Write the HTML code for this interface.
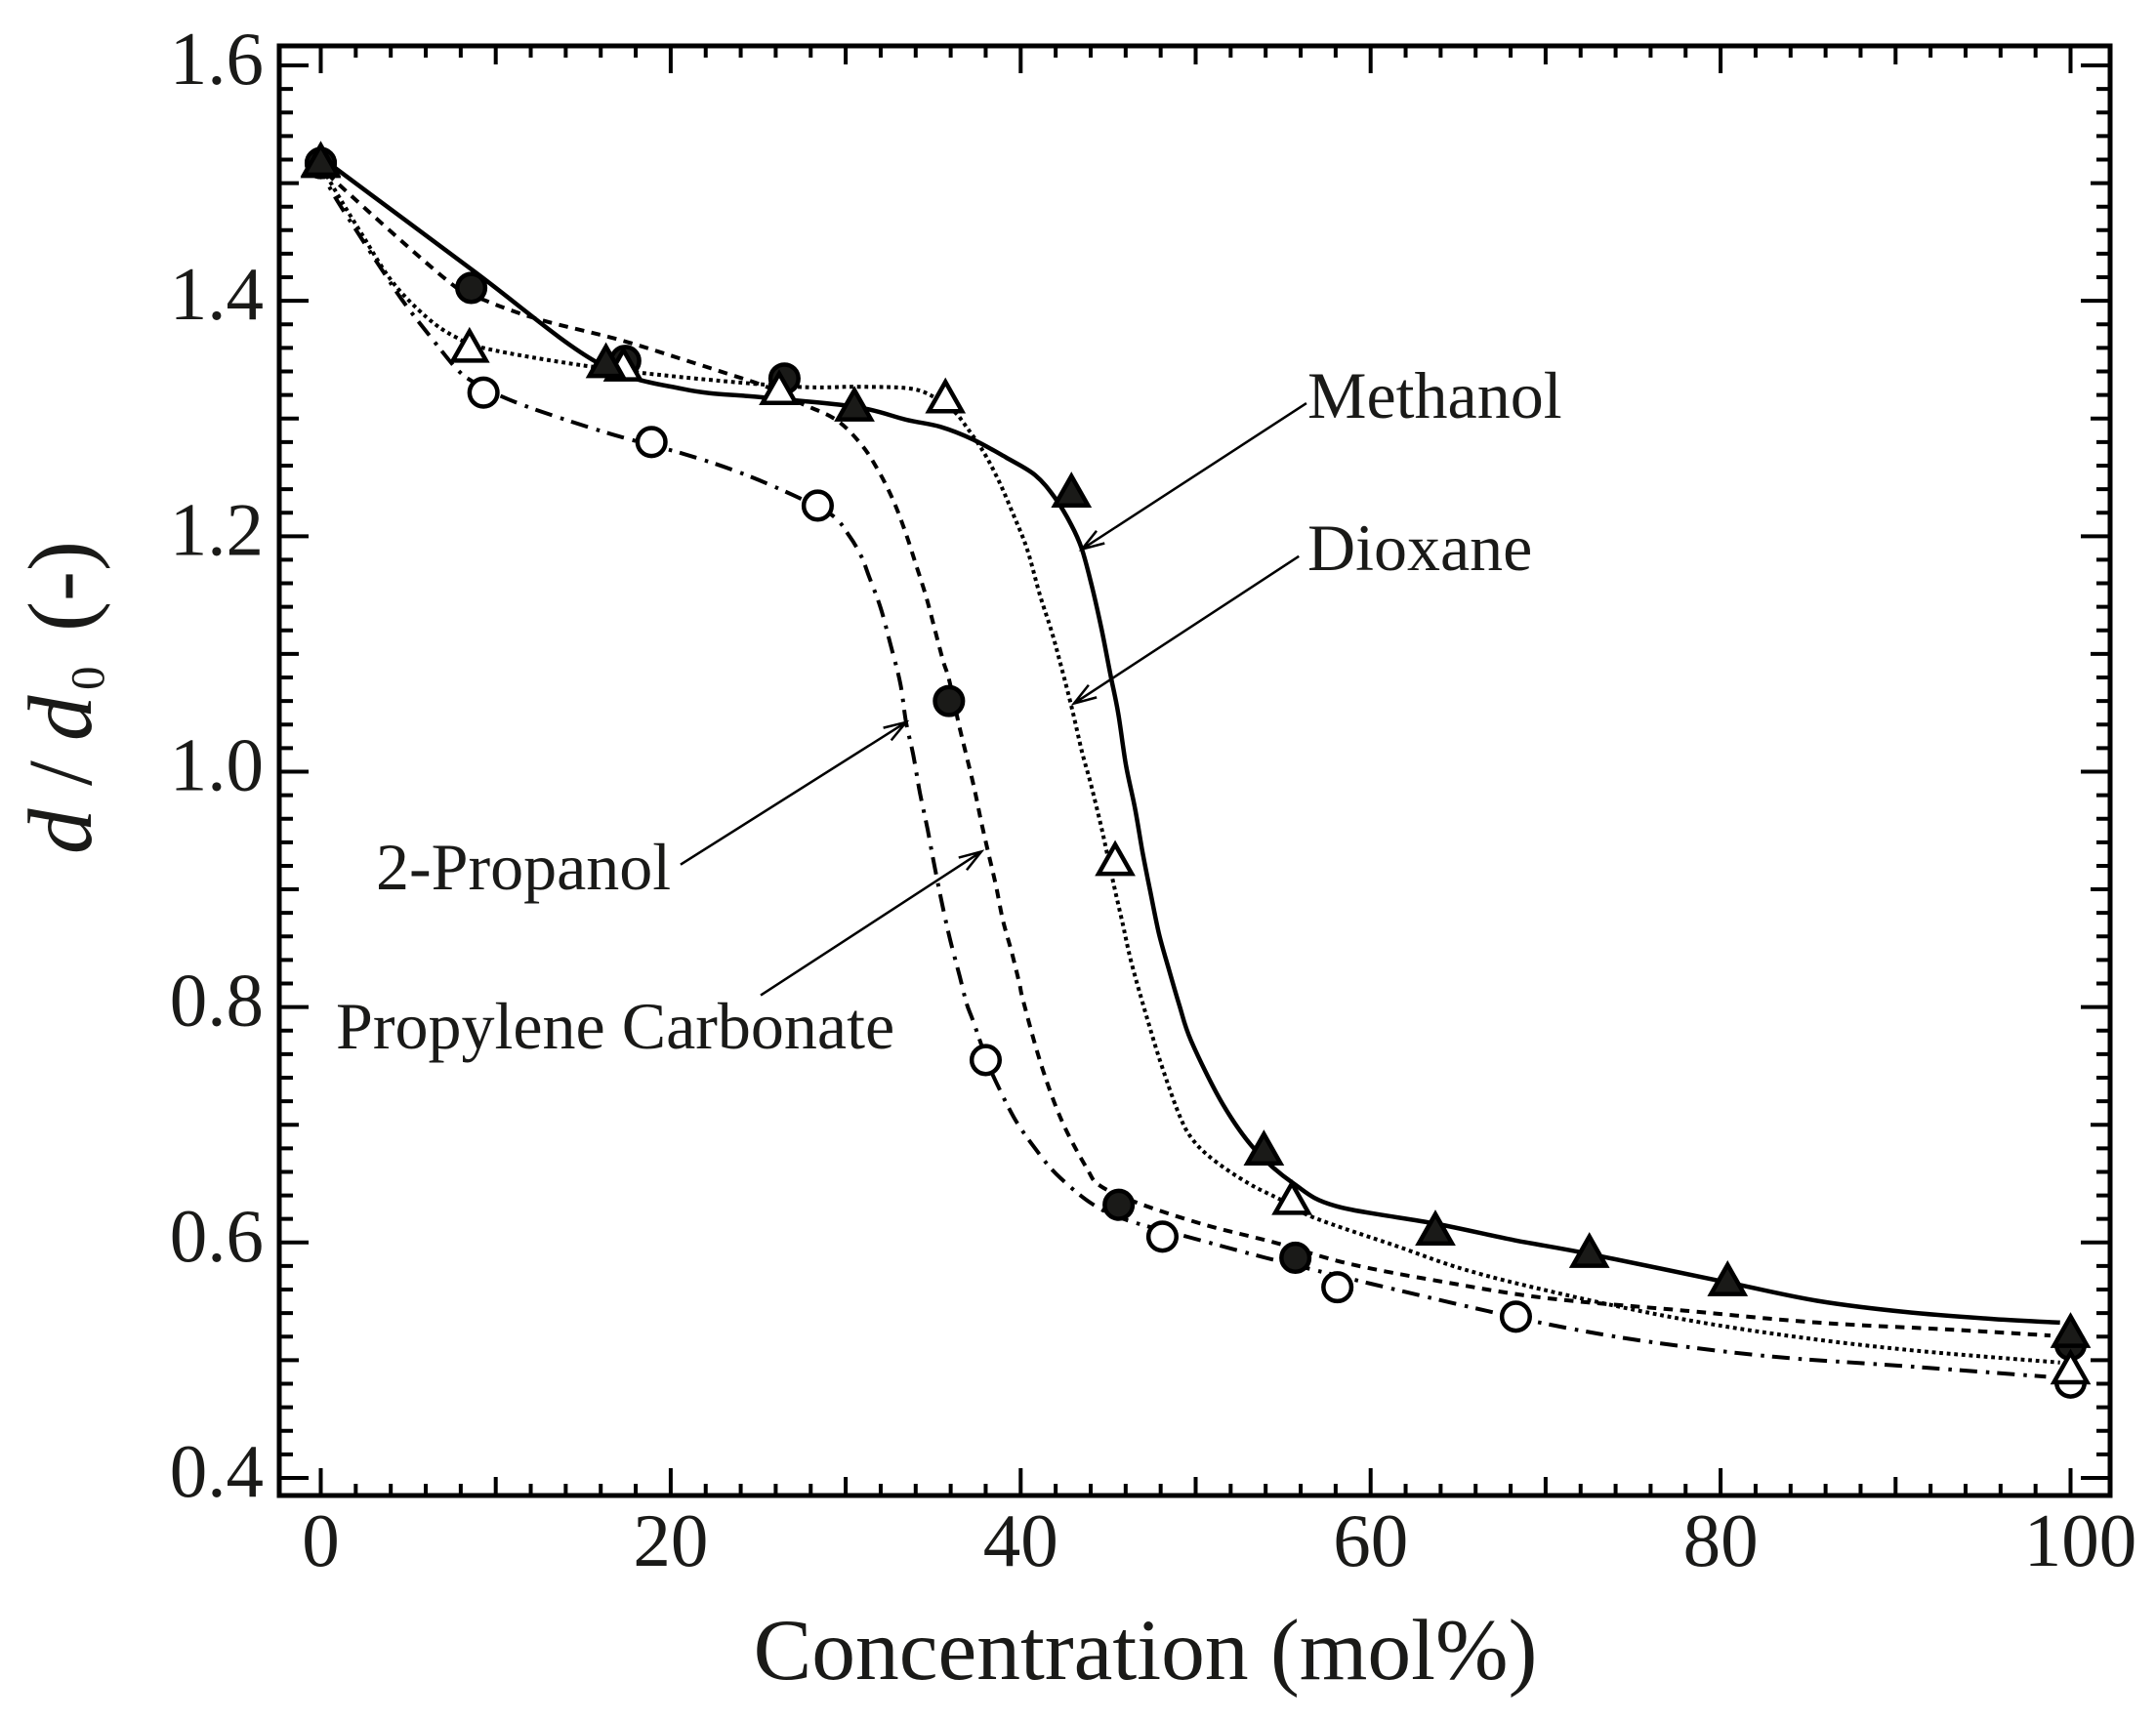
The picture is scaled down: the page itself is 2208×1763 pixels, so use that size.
<!DOCTYPE html>
<html lang="en">
<head>
<meta charset="utf-8">
<title>d/d0 versus concentration</title>
<style>
  html, body { margin: 0; padding: 0; background: #fff; width: 2208px; height: 1763px; overflow: hidden; }
  svg { display: block; }
  text { font-family: "Liberation Serif", "Times New Roman", serif; fill: #1a1a18; }
</style>
</head>
<body>
<svg id="chart" xmlns="http://www.w3.org/2000/svg" width="2208" height="1763" viewBox="0 0 2208 1763">
  <rect x="0" y="0" width="2208" height="1763" fill="#ffffff"/>
  <g id="series-lines"></g>
  <g id="annotations"></g>
  <g id="markers"></g>
  <g id="axes"></g>
  <text x="1173" y="1720" font-size="89.5" text-anchor="middle">Concentration (mol%)</text>
  <text transform="translate(93,875) rotate(-90)" font-size="93"><tspan x="0" y="0" font-style="italic">d</tspan><tspan x="70" y="0">/</tspan><tspan x="116" y="0" font-style="italic">d</tspan><tspan x="168" y="13" font-size="49">0</tspan><tspan x="228" y="0">(-)</tspan></text>
  <text x="1339" y="428" font-size="68">Methanol</text>
  <text x="1339" y="584" font-size="68">Dioxane</text>
  <text x="385" y="911" font-size="68">2-Propanol</text>
  <text x="344" y="1074" font-size="68">Propylene Carbonate</text>
</svg>
<script>
// Tick labels
const xTickValues = [0, 20, 40, 60, 80, 100];
const yTickValues = [1.6, 1.4, 1.2, 1.0, 0.8, 0.6, 0.4];

// Measured markers
const methanolX = [0, 16.3, 30.5, 42.9, 53.9, 63.7, 72.5, 80.4, 100];
const methanolY = [1.518, 1.347, 1.31, 1.237, 0.678, 0.61, 0.591, 0.567, 0.523];
const carbonateX = [0, 8.6, 17.4, 26.5, 35.9, 45.6, 55.7, 100];
const carbonateY = [1.517, 1.411, 1.349, 1.334, 1.06, 0.632, 0.587, 0.513];
const dioxaneX = [0, 8.5, 17.3, 26.2, 35.7, 45.4, 55.5, 100];
const dioxaneY = [1.517, 1.36, 1.344, 1.324, 1.317, 0.924, 0.636, 0.492];
const propanolX = [0, 9.3, 18.9, 28.4, 38, 48.1, 58.1, 68.3, 100];
const propanolY = [1.517, 1.322, 1.28, 1.226, 0.755, 0.605, 0.562, 0.537, 0.481];

// Curves
const methanolCurveX = [0, 8.68, 15.76, 20.73, 25.2, 30.55, 33.45, 35.41, 37.3, 39.15, 40.82, 41.94, 42.88, 43.5, 44.06, 44.61, 45.12, 45.57, 46.01, 46.52, 46.96, 47.41, 47.91, 48.47, 49.08, 49.75, 51.53, 53.38, 55.6, 58.0, 63.7, 68.2, 72.6, 80.4, 85.5, 90.5, 95.6, 99.4];
const methanolCurveY = [1.522, 1.426, 1.348, 1.325, 1.318, 1.31, 1.299, 1.293, 1.282, 1.267, 1.252, 1.233, 1.21, 1.189, 1.158, 1.122, 1.083, 1.05, 1.006, 0.97, 0.932, 0.898, 0.862, 0.832, 0.801, 0.771, 0.718, 0.679, 0.65, 0.631, 0.616, 0.602, 0.59, 0.566, 0.5505, 0.541, 0.535, 0.532];
const carbonateCurveX = [0, 0.59, 7.34, 9.46, 12.53, 17.05, 20.73, 23.47, 25.47, 27.43, 29.44, 30.89, 31.89, 32.73, 33.4, 34.01, 34.57, 35.07, 35.57, 35.91, 36.47, 36.91, 37.36, 37.75, 38.2, 38.59, 38.98, 39.48, 39.93, 40.15, 41.15, 42.33, 43.78, 44.56, 46.79, 50.53, 54.5, 58.74, 63.98, 69.9, 78.0, 85.5, 93.1, 98.85];
const carbonateCurveY = [1.518, 1.505, 1.416, 1.4, 1.384, 1.367, 1.35, 1.337, 1.327, 1.313, 1.299, 1.278, 1.255, 1.23, 1.204, 1.176, 1.15, 1.122, 1.094, 1.078, 1.04, 1.013, 0.985, 0.957, 0.928, 0.903, 0.874, 0.847, 0.82, 0.805, 0.752, 0.704, 0.663, 0.648, 0.633, 0.615, 0.6, 0.582, 0.567, 0.553, 0.542, 0.532, 0.526, 0.521];
const dioxaneCurveX = [0, 0.59, 2.37, 4.1, 6.05, 7.73, 9.57, 15.04, 20.73, 27.2, 30.72, 33.68, 35.07, 36.19, 36.75, 37.86, 38.75, 39.59, 40.37, 41.1, 41.77, 42.32, 42.94, 43.5, 44.0, 44.56, 44.89, 45.29, 45.84, 46.29, 46.96, 47.91, 49.02, 49.8, 51.03, 53.04, 54.77, 56.78, 61.47, 65.37, 70.4, 76.7, 83.0, 90.5, 99.4];
const dioxaneCurveY = [1.518, 1.4997, 1.456, 1.416, 1.386, 1.369, 1.359, 1.345, 1.335, 1.327, 1.327, 1.3255, 1.318, 1.306, 1.296, 1.272, 1.247, 1.218, 1.189, 1.15, 1.119, 1.089, 1.053, 1.017, 0.99, 0.956, 0.934, 0.906, 0.87, 0.84, 0.804, 0.757, 0.71, 0.688, 0.67, 0.65, 0.637, 0.621, 0.597, 0.577, 0.558, 0.538, 0.5225, 0.509, 0.498];
const propanolCurveX = [0, 0.59, 2.37, 3.6, 4.83, 6.56, 7.84, 8.84, 10.3, 12.58, 16.55, 20.73, 23.97, 26.98, 29.21, 30.22, 30.89, 31.33, 32.0, 32.56, 33.12, 33.45, 33.85, 34.24, 34.68, 35.07, 35.52, 35.97, 36.52, 36.91, 37.31, 38.09, 38.7, 39.7, 40.82, 42.05, 44.06, 46.07, 49.75, 54.0, 60.0, 66.9, 71.7, 76.7, 83.0, 90.5, 98.6];
const propanolCurveY = [1.518, 1.494, 1.452, 1.424, 1.397, 1.364, 1.341, 1.33, 1.319, 1.306, 1.287, 1.27, 1.254, 1.235, 1.218, 1.2, 1.183, 1.166, 1.139, 1.108, 1.075, 1.042, 1.015, 0.982, 0.951, 0.92, 0.887, 0.857, 0.826, 0.803, 0.787, 0.754, 0.733, 0.704, 0.68, 0.658, 0.633, 0.619, 0.604, 0.587, 0.565, 0.541, 0.526, 0.514, 0.503, 0.495, 0.486];

// Annotation leader lines in data coordinates
const arrowNames = ['methanol', 'dioxane', '2-propanol', 'propylene-carbonate'];
const arrowTailX = [56.33, 55.9, 20.56, 25.14];
const arrowTailY = [1.313, 1.183, 0.921, 0.81];
const arrowTipX = [43.5, 43.05, 33.45, 37.75];
const arrowTipY = [1.189, 1.058, 1.042, 0.932];

const NS = 'http://www.w3.org/2000/svg';
const FRAME_LEFT = 286, FRAME_RIGHT = 2161, FRAME_TOP = 47, FRAME_BOTTOM = 1532;
const xScale = function (v) { return 328.5 + v * 17.92; };
const yScale = function (v) { return 67 + (1.6 - v) * 1205.8; };

function make(tag, attrs, parent) {
  const el = document.createElementNS(NS, tag);
  for (const k in attrs) el.setAttribute(k, attrs[k]);
  parent.appendChild(el);
  return el;
}

function smoothPath(xs, ys) {
  const p = xs.map(function (x, i) { return [xScale(x), yScale(ys[i])]; });
  let d = 'M' + p[0][0].toFixed(1) + ' ' + p[0][1].toFixed(1);
  for (let i = 0; i < p.length - 1; i++) {
    const a = p[Math.max(i - 1, 0)], b = p[i], c = p[i + 1], e = p[Math.min(i + 2, p.length - 1)];
    const c1x = b[0] + (c[0] - a[0]) / 6, c1y = b[1] + (c[1] - a[1]) / 6;
    const c2x = c[0] - (e[0] - b[0]) / 6, c2y = c[1] - (e[1] - b[1]) / 6;
    d += 'C' + c1x.toFixed(1) + ' ' + c1y.toFixed(1) + ' ' + c2x.toFixed(1) + ' ' + c2y.toFixed(1) + ' ' + c[0].toFixed(1) + ' ' + c[1].toFixed(1);
  }
  return d;
}

// Series lines
const linesGroup = document.getElementById('series-lines');
const methanolLine = make('path', { d: smoothPath(methanolCurveX, methanolCurveY), fill: 'none', stroke: '#000', 'stroke-width': 4.5 }, linesGroup);


const dioxaneLine = make('path', { d: smoothPath(dioxaneCurveX, dioxaneCurveY), fill: 'none', stroke: '#000', 'stroke-width': 4, 'stroke-dasharray': '3.8 3.8' }, linesGroup);


const carbonateLine = make('path', { d: smoothPath(carbonateCurveX, carbonateCurveY), fill: 'none', stroke: '#000', 'stroke-width': 4, 'stroke-dasharray': '9.5 7.5' }, linesGroup);


const propanolLine = make('path', { d: smoothPath(propanolCurveX, propanolCurveY), fill: 'none', stroke: '#000', 'stroke-width': 4, 'stroke-dasharray': '18 9 3.5 8' }, linesGroup);



// Annotation arrows
const annGroup = document.getElementById('annotations');
arrowNames.forEach(function (name, i) {
  const tx = xScale(arrowTailX[i]), ty = yScale(arrowTailY[i]);
  const hx = xScale(arrowTipX[i]), hy = yScale(arrowTipY[i]);
  const ang = Math.atan2(ty - hy, tx - hx), len = 24, spread = 0.32;
  const b1x = hx + len * Math.cos(ang + spread), b1y = hy + len * Math.sin(ang + spread);
  const b2x = hx + len * Math.cos(ang - spread), b2y = hy + len * Math.sin(ang - spread);
  const arrow = make('path', {
    d: 'M' + tx + ' ' + ty + 'L' + hx + ' ' + hy + 'M' + b1x + ' ' + b1y + 'L' + hx + ' ' + hy + 'L' + b2x + ' ' + b2y,
    fill: 'none', stroke: '#000', 'stroke-width': 2.5
  }, annGroup);
  
  
});

// Markers
const markerGroup = document.getElementById('markers');
function circles(xs, ys, fill, name) {
  xs.forEach(function (x, i) {
    const c = make('circle', { cx: xScale(x), cy: yScale(ys[i]), r: 14.3, fill: fill, stroke: '#000', 'stroke-width': 4.5 }, markerGroup);
    
    
  });
}
function triangles(xs, ys, fill, name) {
  xs.forEach(function (x, i) {
    const cx = xScale(x), cy = yScale(ys[i]);
    const pts = cx + ',' + (cy - 17) + ' ' + (cx + 17) + ',' + (cy + 13) + ' ' + (cx - 17) + ',' + (cy + 13);
    const t = make('polygon', { points: pts, fill: fill, stroke: '#000', 'stroke-width': 4.5, 'stroke-linejoin': 'miter' }, markerGroup);
    
    
  });
}
circles(propanolX, propanolY, '#ffffff', '2-propanol-point');
circles(carbonateX, carbonateY, '#1a1a18', 'propylene-carbonate-point');
triangles(dioxaneX, dioxaneY, '#ffffff', 'dioxane-point');
triangles(methanolX, methanolY, '#1a1a18', 'methanol-point');

// Axes
const axes = document.getElementById('axes');
const frame = make('rect', { x: FRAME_LEFT, y: FRAME_TOP, width: FRAME_RIGHT - FRAME_LEFT, height: FRAME_BOTTOM - FRAME_TOP, fill: 'none', stroke: '#000', 'stroke-width': 5 }, axes);



let tickPath = '';
for (let i = 0; i <= 50; i++) {
  const x = xScale(i * 2);
  const len = i % 10 === 0 ? 28 : (i % 5 === 0 ? 19 : 12);
  tickPath += 'M' + x + ' ' + FRAME_BOTTOM + 'v' + (-len) + 'M' + x + ' ' + FRAME_TOP + 'v' + len;
}
for (let i = 0; i <= 60; i++) {
  const y = yScale(0.4 + i * 0.02);
  const len = i % 10 === 0 ? 30 : (i % 5 === 0 ? 20 : 14);
  tickPath += 'M' + FRAME_LEFT + ' ' + y + 'h' + len + 'M' + FRAME_RIGHT + ' ' + y + 'h' + (-len);
}
const ticks = make('path', { d: tickPath, fill: 'none', stroke: '#000', 'stroke-width': 4 }, axes);



xTickValues.forEach(function (v) {
  const t = make('text', { x: xScale(v) + (v === 100 ? 10 : 0), y: 1604, 'font-size': 77, 'text-anchor': 'middle' }, axes);
  
  
  t.textContent = String(v);
});
yTickValues.forEach(function (v) {
  const t = make('text', { x: 270, y: yScale(v) + 19, 'font-size': 77, 'text-anchor': 'end' }, axes);
  
  
  t.textContent = v.toFixed(1);
});
</script>
</body>
</html>
